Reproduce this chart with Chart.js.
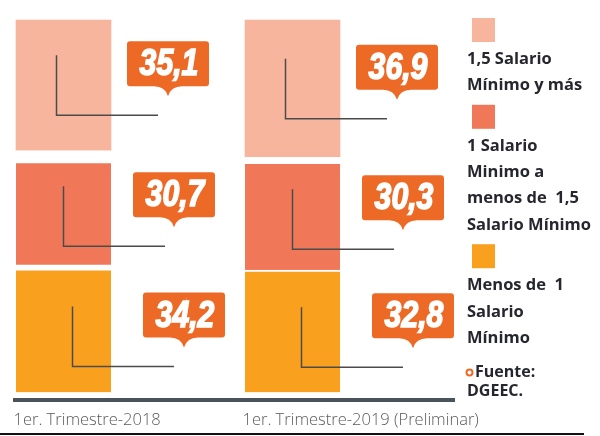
<!DOCTYPE html>
<html>
<head>
<meta charset="utf-8">
<script src="https://cdn.jsdelivr.net/npm/chart.js@4.4.1/dist/chart.umd.min.js"></script>
<style>
  html, body { margin: 0; padding: 0; background: #fff; overflow: hidden; }
  canvas { display: block; }
</style>
</head>
<body>
<canvas id="salarios" width="600" height="436"></canvas>
<script>
// datos
const categories = ['1er. Trimestre-2018', '1er. Trimestre-2019 (Preliminar)'];
const menosDeUno = [34.2, 32.8];
const unoAUnoCinco = [30.7, 30.3];
const unoCincoYMas = [35.1, 36.9];
const seriesLabels = [
  ['Menos de  1', 'Salario', 'Mínimo'],
  ['1 Salario', 'Minimo a', 'menos de  1,5', 'Salario Mínimo'],
  ['1,5 Salario', 'Mínimo y más']
];
const source = ['Fuente:', 'DGEEC.'];

const colors = ['#f9a11e', '#f17759', '#f8b59d'];
const calloutColor = '#ed6a26';
// white gap on top of each segment, per dataset [2018, 2019]
const gaps = [[6, 2], [13, 7], [0, 0]];

const fmt = v => v.toFixed(1).replace('.', ',');

function calloutPath(ctx, x, y, w, h, r, tip) {
  const cx = x + w / 2, b = y + h;
  ctx.beginPath();
  ctx.moveTo(x + r, y);
  ctx.lineTo(x + w - r, y);
  ctx.quadraticCurveTo(x + w, y, x + w, y + r);
  ctx.lineTo(x + w, b - r);
  ctx.quadraticCurveTo(x + w, b, x + w - r, b);
  ctx.lineTo(cx + 14, b);
  ctx.quadraticCurveTo(cx + 3, b, cx, b + tip);
  ctx.quadraticCurveTo(cx - 3, b, cx - 14, b);
  ctx.lineTo(x + r, b);
  ctx.quadraticCurveTo(x, b, x, b - r);
  ctx.lineTo(x, y + r);
  ctx.quadraticCurveTo(x, y, x + r, y);
  ctx.closePath();
}

const overlay = {
  id: 'overlay',
  afterDatasetsDraw(chart) {
    const ctx = chart.ctx;
    ctx.save();
    // base line
    ctx.fillStyle = '#4a525c';
    ctx.fillRect(13, 398, 442, 4);
    // bottom rule
    ctx.fillStyle = '#111';
    ctx.fillRect(0, 433, 584, 2);

    chart.data.datasets.forEach((ds, di) => {
      const meta = chart.getDatasetMeta(di);
      const role = 2 - di; // 0 = arriba, 2 = abajo
      meta.data.forEach((bar, i) => {
        const p = bar.getProps(['x', 'y', 'base', 'width'], true);
        const right = p.x + p.width / 2;
        const cy = (p.y + gaps[di][i] + p.base) / 2;
        const lx = p.x + [-7, 0, 9][role];
        const y2 = cy + [30, 32, 35][role];
        ctx.strokeStyle = '#4b4b4b';
        ctx.lineWidth = 1.5;
        ctx.beginPath();
        ctx.moveTo(lx, y2 - 60);
        ctx.lineTo(lx, y2);
        ctx.lineTo(right + [47, 54, 63][role], y2);
        ctx.stroke();

        const bx = right + [16, 22, 32][role], by = y2 - 74, bw = 82, bh = 45;
        ctx.fillStyle = calloutColor;
        calloutPath(ctx, bx, by, bw, bh, 3, 10);
        ctx.fill();

        ctx.save();
        ctx.translate(bx + bw / 2 + 1, by + 34);
        ctx.scale(0.84, 1.02);
        ctx.font = 'italic bold 36px "Liberation Sans", Arial, sans-serif';
        ctx.textAlign = 'center';
        ctx.textBaseline = 'alphabetic';
        ctx.fillStyle = '#fff';
        ctx.strokeStyle = '#fff';
        ctx.lineWidth = 1.6;
        const t = fmt(ds.data[i]);
        ctx.fillText(t, 0, 0);
        ctx.strokeText(t, 0, 0);
        ctx.restore();
      });
    });
    ctx.restore();
  },
  afterDraw(chart) {
    const ctx = chart.ctx;
    ctx.save();
    ctx.font = 'bold 16.5px "Open Sans", sans-serif';
    ctx.textBaseline = 'alphabetic';
    ctx.textAlign = 'left';
    let top = 18;
    const ds = chart.data.datasets;
    for (let k = ds.length - 1; k >= 0; k--) {
      ctx.fillStyle = ds[k].backgroundColor;
      ctx.fillRect(472, top, 23, 24);
      ctx.fillStyle = '#26262f';
      let base = top + 46;
      ds[k].label.forEach((line, j) => {
        base = top + 46 + j * 26.3;
        ctx.fillText(line, 467, base);
      });
      top = base + 14.5;
    }
    // fuente
    ctx.strokeStyle = calloutColor;
    ctx.lineWidth = 2;
    ctx.beginPath();
    ctx.arc(469.5, 372.5, 3, 0, Math.PI * 2);
    ctx.stroke();
    ctx.fillStyle = '#26262f';
    ctx.font = 'bold 16px "Open Sans", sans-serif';
    ctx.fillText(source[0], 475, 377);
    ctx.fillText(source[1], 467, 396);
    ctx.restore();
  }
};

new Chart(document.getElementById('salarios'), {
  type: 'bar',
  data: {
    labels: categories,
    datasets: [
      { label: seriesLabels[0], data: menosDeUno, backgroundColor: colors[0] },
      { label: seriesLabels[1], data: unoAUnoCinco, backgroundColor: colors[1] },
      { label: seriesLabels[2], data: unoCincoYMas, backgroundColor: colors[2] }
    ].map(d => Object.assign(d, {
      borderColor: '#fff',
      borderSkipped: false,
      borderWidth: c => ({ top: gaps[c.datasetIndex][c.dataIndex], left: 0, right: 0, bottom: 0 }),
      barThickness: 95,
      clip: false
    }))
  },
  options: {
    responsive: false,
    animation: false,
    devicePixelRatio: 1,
    layout: { padding: { left: 63.5, right: 307.5, top: 20, bottom: -12 } },
    plugins: { legend: { display: false }, tooltip: { enabled: false } },
    scales: {
      x: {
        stacked: true,
        offset: false,
        grid: { display: false, drawTicks: false },
        border: { display: false },
        ticks: {
          align: 'start',
          labelOffset: -50,
          padding: 18,
          maxRotation: 0,
          autoSkip: false,
          color: '#5a5a5a',
          font: { family: 'Open Sans', size: 16.5, weight: '300' }
        }
      },
      y: {
        stacked: true,
        display: false,
        min: 0,
        max: 100
      }
    }
  },
  plugins: [overlay]
});
</script>
</body>
</html>
